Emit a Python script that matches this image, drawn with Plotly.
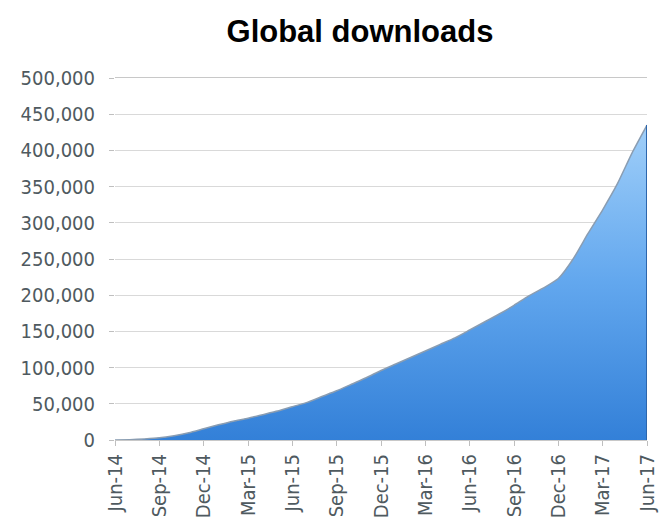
import plotly.graph_objects as go

months = [
    "Jun-14", "Jul-14", "Aug-14", "Sep-14", "Oct-14", "Nov-14", "Dec-14",
    "Jan-15", "Feb-15", "Mar-15", "Apr-15", "May-15", "Jun-15", "Jul-15",
    "Aug-15", "Sep-15", "Oct-15", "Nov-15", "Dec-15", "Jan-16", "Feb-16",
    "Mar-16", "Apr-16", "May-16", "Jun-16", "Jul-16", "Aug-16", "Sep-16",
    "Oct-16", "Nov-16", "Dec-16", "Jan-17", "Feb-17", "Mar-17", "Apr-17",
    "May-17", "Jun-17",
]
downloads = [
    0, 500, 1500, 3000, 6000, 10000, 15500,
    21000, 26000, 30000, 35000, 40000, 46000, 52000,
    60000, 68000, 77000, 86000, 96000, 105000, 114000,
    123000, 132000, 141000, 152000, 163000, 174000, 186000,
    199000, 210000, 223000, 250000, 285000, 318000, 354000,
    397000, 435000,
]
tick_labels = months[::3]

label_font = "DejaVu Sans Condensed, Liberation Sans, Arial, sans-serif"

fig = go.Figure()
fig.add_trace(go.Scatter(
    x=months, y=downloads, mode="lines", fill="tozeroy",
    line=dict(color="#8a9db2", width=1.5, shape="spline", smoothing=0.5),
    fillgradient=dict(type="vertical",
                      colorscale=[[0, "#3380d8"], [0.5, "#62a7ee"], [1, "#a0cff9"]],
                      start=0, stop=max(downloads)),
    hoverinfo="skip", showlegend=False,
))
# dark right edge of the area
fig.add_trace(go.Scatter(
    x=[months[-1], months[-1]], y=[0, downloads[-1]], mode="lines",
    line=dict(color="#2c66ad", width=2), hoverinfo="skip", showlegend=False,
))

fig.update_layout(
    width=662, height=523,
    margin=dict(l=115, r=15, t=78, b=83),
    paper_bgcolor="white", plot_bgcolor="white",
    title=dict(text="<b>Global downloads</b>", x=360 / 662, xref="container",
               xanchor="center", y=1 - 31 / 523, yref="container", yanchor="middle",
               font=dict(family="Liberation Sans, Arial, sans-serif", size=31, color="black")),
    xaxis=dict(type="category", range=[0, len(months) - 1], automargin=False,
               tickmode="array", tickvals=tick_labels, ticktext=tick_labels,
               tickangle=-90, ticks="outside", ticklen=5, tickcolor="#bfbfbf",
               showline=True, linecolor="#c8c8c8", linewidth=1, mirror=True,
               showgrid=False,
               tickfont=dict(family=label_font, size=20, color="#4f5a5f")),
    yaxis=dict(range=[0, 500000], dtick=50000, tickformat=",", automargin=False,
               ticks="outside", ticklen=5, tickcolor="#bfbfbf",
               showgrid=True, gridcolor="#d9d9d9", gridwidth=1,
               zeroline=False, showline=False, ticklabelstandoff=10,
               tickfont=dict(family=label_font, size=20, color="#4f5a5f")),
)

fig.write_html("out.html",
               config={"displayModeBar": False},
               post_script="document.body.style.margin='0px';document.body.style.overflow='hidden';")
